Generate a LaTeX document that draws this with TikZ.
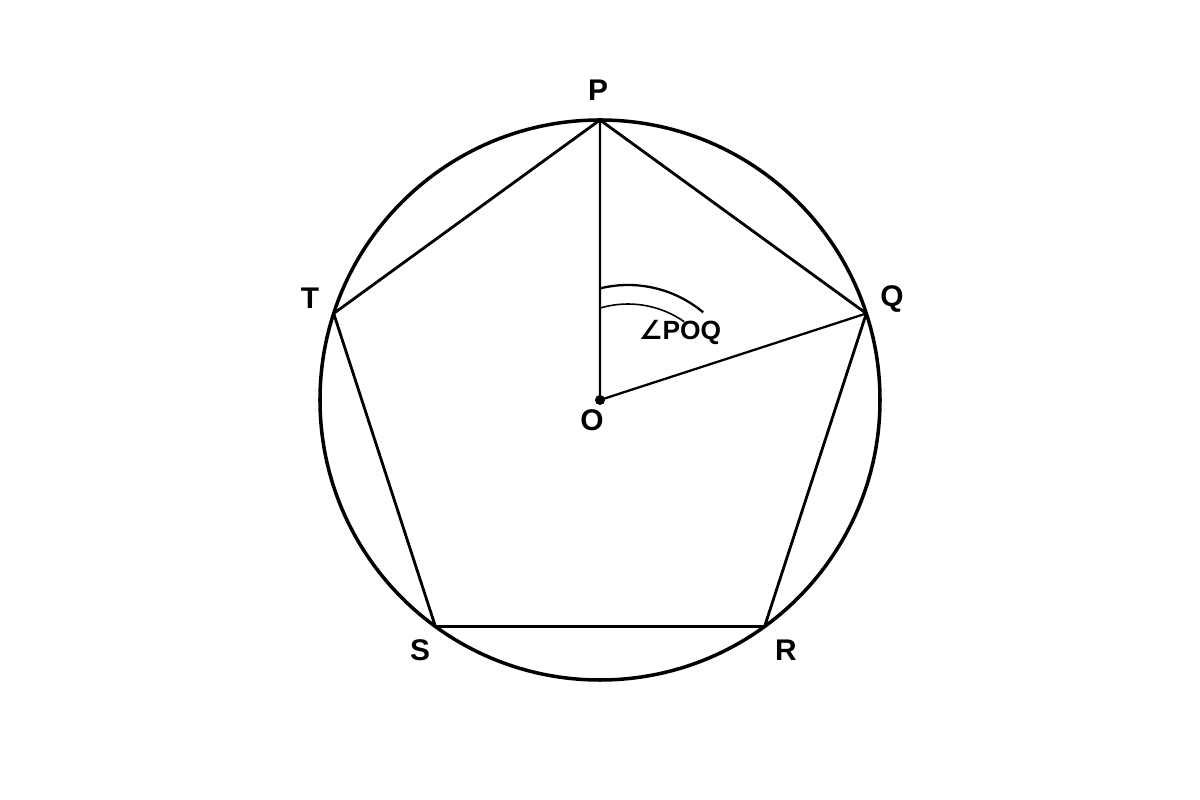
\documentclass[tikz,border=0pt]{standalone}
\usepackage{fontspec}
\setmainfont{Liberation Sans}
\newfontfamily\angfont{DejaVu Sans}
\begin{document}
\begin{tikzpicture}[x=0.02cm,y=0.02cm,
    lbl/.style={inner sep=0pt,font=\fontsize{17}{19}\selectfont\bfseries},
    side/.style={line width=1.6pt,line join=round}]
    \useasboundingbox (-600,-400) rectangle (600,400);
    \coordinate (O) at (0,0);
    \coordinate (P) at (90:280);
    \coordinate (Q) at (18:280);
    \coordinate (R) at (-54:280);
    \coordinate (S) at (-126:280);
    \coordinate (T) at (162:280);
    \draw[line width=2pt] (O) circle (280);
    \draw[side] (P) -- (Q) -- (R) -- (S) -- (T) -- cycle;
    \draw[line width=1.3pt] (P) -- (O) -- (Q);
    \fill (O) circle (5);
    \draw[line width=1.3pt] ([shift={(28,-2)}]104:117) arc (104:50:117);
    \draw[line width=0.9pt] ([shift={(28,-2)}]106:98) arc (106:55:98);
    \node[lbl] (lP) at (-2,310) {P};
    \node[lbl] (lQ) at (292,101) {Q};
    \node[lbl] (lR) at (186,-250) {R};
    \node[lbl] (lS) at (-180,-250) {S};
    \node[lbl] (lT) at (-290,102) {T};
    \node[lbl] (lO) at (-8,-20) {O};
    \node[inner sep=0pt,font=\fontsize{15}{17}\selectfont\bfseries] (lang) at (80,68) {{\angfont ∠}POQ};
\end{tikzpicture}
\end{document}
